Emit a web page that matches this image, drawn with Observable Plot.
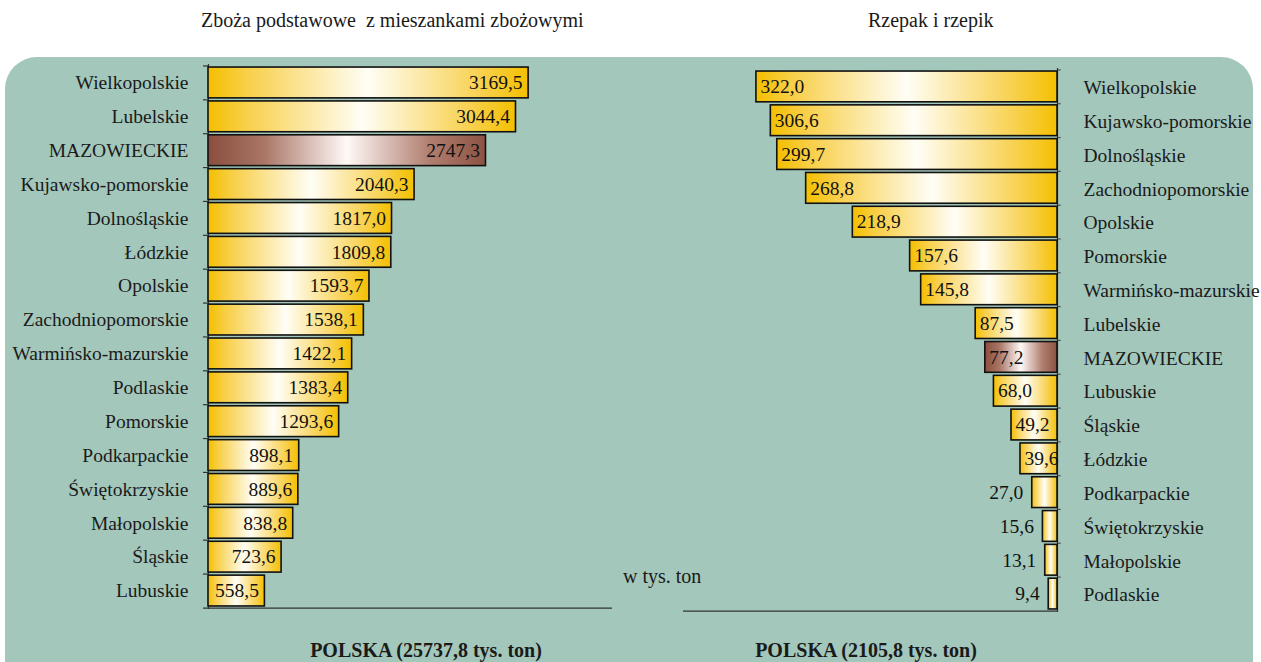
<!DOCTYPE html>
<html>
<head>
<meta charset="utf-8">
<script src="https://cdn.jsdelivr.net/npm/d3@7"></script>
<script src="https://cdn.jsdelivr.net/npm/@observablehq/plot@0.6"></script>
<style>
  html, body { margin: 0; padding: 0; background: #fff; overflow: hidden; }
  #root { position: relative; width: 1261px; height: 662px; overflow: hidden; font-family: "Liberation Serif", "DejaVu Serif", serif; color: #1a1a1a; }
  #bg { position: absolute; left: 5px; top: 57px; width: 1248px; height: 660px; background: #a3c7bb; border-radius: 32px; }
  .t { position: absolute; font-size: 20px; white-space: pre; }
  .b { position: absolute; font-size: 20px; font-weight: bold; white-space: pre; transform: translateX(-50%); }
  .plot-wrap { position: absolute; top: 0; }
  svg.plot, .plot-wrap svg { background: transparent !important; max-width: none !important; overflow: visible; }
</style>
</head>
<body>
<svg width="0" height="0" style="position:absolute">
  <defs>
    <linearGradient id="gold" x1="0" x2="1" y1="0" y2="0">
      <stop offset="0" stop-color="#f4bf00"/>
      <stop offset="0.12" stop-color="#f8cf48"/>
      <stop offset="0.5" stop-color="#fffef6"/>
      <stop offset="0.85" stop-color="#f8d150"/>
      <stop offset="1" stop-color="#f4c000"/>
    </linearGradient>
    <linearGradient id="brown" x1="0" x2="1" y1="0" y2="0">
      <stop offset="0" stop-color="#8a4e3e"/>
      <stop offset="0.2" stop-color="#a97565"/>
      <stop offset="0.5" stop-color="#fff9f7"/>
      <stop offset="0.8" stop-color="#b07e6f"/>
      <stop offset="1" stop-color="#8c5242"/>
    </linearGradient>
  </defs>
</svg>
<div id="root">
  <div id="bg"></div>
  <div class="t" style="left:201px; top:9px;">Zboża podstawowe  z mieszankami zbożowymi</div>
  <div class="t" style="left:868px; top:9px;">Rzepak i rzepik</div>
  <div class="t" style="left:623px; top:565px;">w tys. ton</div>
  <div class="b" style="left:426px; top:639px;">POLSKA (25737,8 tys. ton)</div>
  <div class="b" style="left:866px; top:639px;">POLSKA (2105,8 tys. ton)</div>
  <div id="left" class="plot-wrap" style="left:0px;"></div>
  <div id="right" class="plot-wrap" style="left:620px;"></div>
</div>
<script>
// Zboża podstawowe z mieszankami zbożowymi (tys. ton)
const grainRegions = ["Wielkopolskie","Lubelskie","MAZOWIECKIE","Kujawsko-pomorskie","Dolnośląskie","Łódzkie","Opolskie","Zachodniopomorskie","Warmińsko-mazurskie","Podlaskie","Pomorskie","Podkarpackie","Świętokrzyskie","Małopolskie","Śląskie","Lubuskie"];
const grainValues = [3169.5,3044.4,2747.3,2040.3,1817.0,1809.8,1593.7,1538.1,1422.1,1383.4,1293.6,898.1,889.6,838.8,723.6,558.5];

// Rzepak i rzepik (tys. ton)
const rapeRegions = ["Wielkopolskie","Kujawsko-pomorskie","Dolnośląskie","Zachodniopomorskie","Opolskie","Pomorskie","Warmińsko-mazurskie","Lubelskie","MAZOWIECKIE","Lubuskie","Śląskie","Łódzkie","Podkarpackie","Świętokrzyskie","Małopolskie","Podlaskie"];
const rapeValues = [322.0,306.6,299.7,268.8,218.9,157.6,145.8,87.5,77.2,68.0,49.2,39.6,27.0,15.6,13.1,9.4];

const highlight = "MAZOWIECKIE";
const fmt = v => v.toFixed(1).replace(".", ",");

const grain = grainRegions.map((r, i) => ({region: r, value: grainValues[i]}));
const rape = rapeRegions.map((r, i) => ({region: r, value: rapeValues[i]}));

const FF = '"Liberation Serif", "DejaVu Serif", serif';
const FS = 19.5;
const style = {fontFamily: FF, fontSize: FS + "px", background: "transparent", color: "#1a1a1a"};

const leftPlot = Plot.plot({
  width: 620, height: 662,
  marginLeft: 208, marginRight: 8, marginTop: 64, marginBottom: 53,
  style,
  x: {domain: [0, 4000], axis: null},
  y: {domain: grainRegions, padding: 0.09, round: false, axis: null},
  marks: [
    Plot.axisY({anchor: "left", label: null, tickSize: 0, tickPadding: 20, fontSize: FS, fontFamily: FF, fill: "#1a1a1a"}),
    Plot.ruleY(grainRegions, {y: d => d, x1: -50, x2: 0, dy: -17, stroke: "#333", strokeWidth: 1.2}),
    Plot.ruleY([grainRegions[grainRegions.length - 1]], {y: d => d, x1: -50, x2: 4000, dy: 17, stroke: "#333", strokeWidth: 1.2}),
    Plot.ruleX([0], {stroke: "#333", strokeWidth: 1.2}),
    Plot.barX(grain.filter(d => d.region !== highlight), {y: "region", x: "value", fill: "url(#gold)", stroke: "#111", strokeWidth: 1.6}),
    Plot.barX(grain.filter(d => d.region === highlight), {y: "region", x: "value", fill: "url(#brown)", stroke: "#111", strokeWidth: 1.6}),
    Plot.text(grain, {y: "region", x: "value", text: d => fmt(d.value), textAnchor: "end", dx: -6, fontSize: FS, fontFamily: FF, fill: "#111"})
  ]
});
document.getElementById("left").appendChild(leftPlot);

const rightPlot = Plot.plot({
  width: 641, height: 662,
  marginLeft: 63, marginRight: 204, marginTop: 68, marginBottom: 50,
  style,
  x: {domain: [0, 400], reverse: true, axis: null},
  y: {domain: rapeRegions, padding: 0.09, round: false, axis: null},
  marks: [
    Plot.axisY({anchor: "right", label: null, tickSize: 0, tickPadding: 26, fontSize: FS, fontFamily: FF, fill: "#1a1a1a", dy: 1}),
    Plot.ruleY(rapeRegions, {y: d => d, x1: -4, x2: 0, dy: -17, stroke: "#555", strokeWidth: 1.2}),
    Plot.ruleY([rapeRegions[rapeRegions.length - 1]], {y: d => d, x1: 0, x2: 400, dy: 17, stroke: "#333", strokeWidth: 1.2}),
    Plot.ruleX([0], {stroke: "#333", strokeWidth: 1.2}),
    Plot.barX(rape.filter(d => d.region !== highlight), {y: "region", x: "value", fill: "url(#gold)", stroke: "#111", strokeWidth: 1.6}),
    Plot.barX(rape.filter(d => d.region === highlight), {y: "region", x: "value", fill: "url(#brown)", stroke: "#111", strokeWidth: 1.6}),
    Plot.text(rape.filter(d => d.value >= 35), {y: "region", x: "value", text: d => fmt(d.value), textAnchor: "start", dx: 4, fontSize: FS, fontFamily: FF, fill: "#111"}),
    Plot.text(rape.filter(d => d.value < 35), {y: "region", x: "value", text: d => fmt(d.value), textAnchor: "end", dx: -9, fontSize: FS, fontFamily: FF, fill: "#111"})
  ]
});
document.getElementById("right").appendChild(rightPlot);
</script>
</body>
</html>
